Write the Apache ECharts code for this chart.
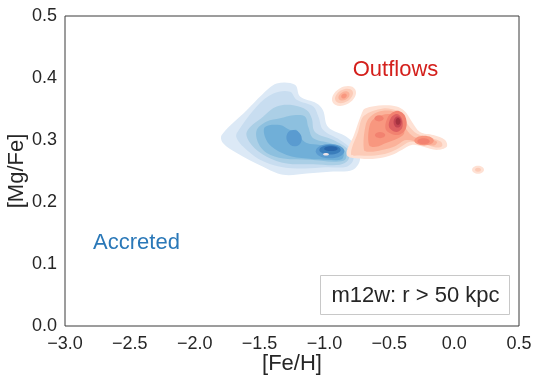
<!DOCTYPE html>
<html>
<head>
<meta charset="utf-8">
<script src="https://cdn.jsdelivr.net/npm/echarts@6/dist/echarts.min.js"></script>
<style>
  html, body { margin: 0; padding: 0; background: #fff; }
  #chart { width: 538px; height: 384px; }
</style>
</head>
<body>
<div id="chart"></div>
<script>
  // axis ticks
  var xTicks = [-3.0, -2.5, -2.0, -1.5, -1.0, -0.5, 0.0, 0.5];
  var yTicks = [0.0, 0.1, 0.2, 0.3, 0.4, 0.5];

  // accreted KDE contours: [level, [[FeH, MgFe], ...]]
  var accretedPolys = [
    [0, [[-1.792, 0.308], [-1.599, 0.348], [-1.481, 0.373], [-1.368, 0.391], [-1.227, 0.389], [-1.188, 0.370], [-1.059, 0.359], [-1.011, 0.348], [-0.972, 0.321], [-0.828, 0.305], [-0.751, 0.289], [-0.726, 0.268], [-0.780, 0.252], [-0.934, 0.249], [-1.136, 0.246], [-1.319, 0.244], [-1.473, 0.257], [-1.676, 0.279], [-1.782, 0.295]]],
    [1, [[-1.676, 0.311], [-1.522, 0.354], [-1.394, 0.375], [-1.265, 0.378], [-1.214, 0.365], [-1.086, 0.354], [-1.047, 0.338], [-1.009, 0.316], [-0.880, 0.300], [-0.790, 0.284], [-0.777, 0.268], [-0.828, 0.257], [-0.982, 0.256], [-1.163, 0.254], [-1.342, 0.257], [-1.497, 0.268], [-1.625, 0.289], [-1.676, 0.303]]],
    [2, [[-1.599, 0.313], [-1.471, 0.338], [-1.368, 0.354], [-1.240, 0.356], [-1.136, 0.348], [-1.098, 0.335], [-1.073, 0.313], [-0.931, 0.300], [-0.816, 0.284], [-0.816, 0.268], [-0.880, 0.260], [-1.086, 0.261], [-1.291, 0.262], [-1.445, 0.273], [-1.561, 0.292]]],
    [3, [[-1.522, 0.316], [-1.445, 0.330], [-1.342, 0.335], [-1.240, 0.340], [-1.150, 0.338], [-1.124, 0.321], [-1.086, 0.303], [-0.957, 0.295], [-0.841, 0.283], [-0.841, 0.268], [-0.931, 0.265], [-1.111, 0.268], [-1.317, 0.270], [-1.445, 0.279], [-1.510, 0.295]]],
    [4, [[-1.458, 0.321], [-1.342, 0.324], [-1.265, 0.316], [-1.214, 0.316], [-1.188, 0.305], [-1.136, 0.295], [-1.034, 0.292], [-0.931, 0.289], [-0.854, 0.279], [-0.867, 0.269], [-0.982, 0.268], [-1.136, 0.270], [-1.291, 0.276], [-1.406, 0.289], [-1.458, 0.305]]]
  ];
  // accreted small peaks: [level, FeH, MgFe, rFeH, rMgFe, tiltDeg]
  var accretedBlobs = [
    [5, -1.234, 0.303, 0.058, 0.0135, 25],
    [5, -0.957, 0.282, 0.110, 0.0115, 0],
    [6, -0.957, 0.284, 0.082, 0.0075, 0],
    [7, -0.950, 0.286, 0.052, 0.0038, 0],
    [8, -0.988, 0.277, 0.023, 0.0022, 0]
  ];

  // outflow KDE contours
  var outflowPolys = [
    [0, [[-0.828, 0.276], [-0.772, 0.308], [-0.712, 0.343], [-0.687, 0.351], [-0.546, 0.356], [-0.443, 0.354], [-0.379, 0.346], [-0.327, 0.330], [-0.263, 0.313], [-0.160, 0.308], [-0.070, 0.300], [-0.057, 0.289], [-0.134, 0.284], [-0.237, 0.289], [-0.327, 0.292], [-0.404, 0.284], [-0.481, 0.276], [-0.597, 0.270], [-0.726, 0.270]]],
    [1, [[-0.795, 0.277], [-0.741, 0.313], [-0.695, 0.339], [-0.548, 0.351], [-0.448, 0.348], [-0.394, 0.340], [-0.355, 0.324], [-0.286, 0.310], [-0.170, 0.303], [-0.101, 0.297], [-0.093, 0.290], [-0.140, 0.288], [-0.240, 0.294], [-0.340, 0.297], [-0.425, 0.287], [-0.510, 0.279], [-0.610, 0.275], [-0.726, 0.275]]],
    [2, [[-0.695, 0.284], [-0.680, 0.326], [-0.633, 0.340], [-0.548, 0.347], [-0.456, 0.345], [-0.402, 0.334], [-0.371, 0.318], [-0.309, 0.305], [-0.201, 0.302], [-0.132, 0.297], [-0.155, 0.291], [-0.255, 0.295], [-0.371, 0.300], [-0.456, 0.290], [-0.556, 0.284], [-0.648, 0.281]]],
    [3, [[-0.656, 0.292], [-0.648, 0.326], [-0.594, 0.337], [-0.510, 0.342], [-0.433, 0.339], [-0.394, 0.324], [-0.386, 0.310], [-0.440, 0.302], [-0.525, 0.295], [-0.602, 0.289]]],
    [4, [[-0.525, 0.316], [-0.510, 0.337], [-0.440, 0.347], [-0.379, 0.339], [-0.371, 0.319], [-0.433, 0.308]]],
    [5, [[-0.502, 0.321], [-0.487, 0.336], [-0.440, 0.342], [-0.402, 0.334], [-0.402, 0.319], [-0.448, 0.313]]]
  ];
  var outflowBlobs = [
    [0, -0.849, 0.371, 0.100, 0.0140, 30],
    [1, -0.849, 0.371, 0.075, 0.0100, 30],
    [2, -0.849, 0.371, 0.046, 0.0066, 30],
    [3, -0.849, 0.371, 0.023, 0.0036, 30],
    [0, 0.184, 0.252, 0.046, 0.0065, 0],
    [1, 0.184, 0.252, 0.023, 0.0032, 0],
    [3, -0.232, 0.299, 0.075, 0.0080, 0],
    [4, -0.236, 0.298, 0.048, 0.0050, 0],
    [4, -0.579, 0.335, 0.035, 0.0050, 0],
    [4, -0.571, 0.308, 0.040, 0.0050, 0],
    [6, -0.436, 0.329, 0.031, 0.0090, 0],
    [7, -0.433, 0.330, 0.018, 0.0055, 0]
  ];

  var accretedColors = ['#dce9f6', '#c8ddf0', '#abcfe6', '#8dc0df', '#70afd8', '#5a9bd0', '#3a7dbb', '#2966ab', '#ece3e8'];
  var outflowColors = ['#fee1d4', '#fccbb7', '#fbb29a', '#f8977f', '#f28270', '#dd6061', '#c24552', '#a3323f'];

  function collect(polys, blobs, colors) {
    var list = [];
    polys.forEach(function (p) {
      list.push({lvl: p[0], pts: p[1], colors: colors});
    });
    blobs.forEach(function (b) {
      list.push({lvl: b[0], cx: b[1], cy: b[2], rx: b[3], ry: b[4], rot: b[5], colors: colors});
    });
    // lower levels behind higher ones
    return list.map(function (s, i) { s.order = i; return s; }).sort(function (a, b) {
      return a.lvl - b.lvl || a.order - b.order;
    });
  }

  var shapes = collect(accretedPolys, accretedBlobs, accretedColors)
    .concat(collect(outflowPolys, outflowBlobs, outflowColors));

  function renderShape(params, api) {
    var s = shapes[params.dataIndex];
    var color = s.colors[s.lvl];
    if (s.pts) {
      return {
        type: 'polygon',
        shape: {points: s.pts.map(function (p) { return api.coord(p); }), smooth: 0.35},
        style: {fill: color}
      };
    }
    var c = api.coord([s.cx, s.cy]);
    var r = api.size([s.rx, s.ry]);
    return {
      type: 'ellipse',
      x: c[0], y: c[1],
      rotation: s.rot * Math.PI / 180,
      shape: {cx: 0, cy: 0, rx: r[0], ry: r[1]},
      style: {fill: color}
    };
  }

  function fmt(v) {
    return (v < 0 ? '\u2212' : '') + Math.abs(v).toFixed(1);
  }

  var font = "'Liberation Sans', Arial, sans-serif";
  var chart = echarts.init(document.getElementById('chart'));
  chart.setOption({
    animation: false,
    grid: {
      left: 65, right: 19, top: 16, bottom: 58, outerBoundsMode: 'none',
      show: true, borderColor: '#3a3a3a', borderWidth: 1, backgroundColor: '#fff'
    },
    xAxis: {
      type: 'value', min: xTicks[0], max: xTicks[xTicks.length - 1], interval: 0.5,
      name: '[Fe/H]', nameLocation: 'middle', nameGap: 27, nameMoveOverlap: false,
      nameTextStyle: {fontFamily: font, fontSize: 22, color: '#262626'},
      axisLine: {show: false}, axisTick: {show: false}, splitLine: {show: false},
      axisLabel: {formatter: fmt, fontFamily: font, fontSize: 18, color: '#262626', margin: 9}
    },
    yAxis: {
      type: 'value', min: yTicks[0], max: yTicks[yTicks.length - 1], interval: 0.1,
      name: '[Mg/Fe]', nameLocation: 'middle', nameGap: 37, nameMoveOverlap: false,
      nameTextStyle: {fontFamily: font, fontSize: 22, color: '#262626'},
      axisLine: {show: false}, axisTick: {show: false}, splitLine: {show: false},
      axisLabel: {formatter: fmt, fontFamily: font, fontSize: 18, color: '#262626', margin: 8}
    },
    series: [
      {
        type: 'custom',
        renderItem: renderShape,
        data: shapes.map(function (s) { return s.pts ? s.pts[0] : [s.cx, s.cy]; }),
        silent: true
      },
      {
        type: 'scatter', symbolSize: 0, silent: true,
        itemStyle: {opacity: 1},
        label: {show: true, position: 'inside', fontFamily: font, fontSize: 22, formatter: '{b}'},
        data: [
          {name: 'Outflows', value: [-0.452, 0.413], label: {color: '#d4201c'}},
          {name: 'Accreted', value: [-2.449, 0.134], label: {color: '#2a78b8'}}
        ]
      }
    ],
    graphic: [
      {
        type: 'group', left: 320, top: 275,
        children: [
          {type: 'rect', shape: {x: 0, y: 0, width: 189, height: 39}, style: {fill: '#fff', stroke: '#c8c8c8', lineWidth: 1}},
          {type: 'text', x: 95, y: 20, style: {text: 'm12w: r > 50 kpc', font: '22px ' + font, fill: '#262626', align: 'center', verticalAlign: 'middle'}}
        ]
      }
    ]
  });
</script>
</body>
</html>
